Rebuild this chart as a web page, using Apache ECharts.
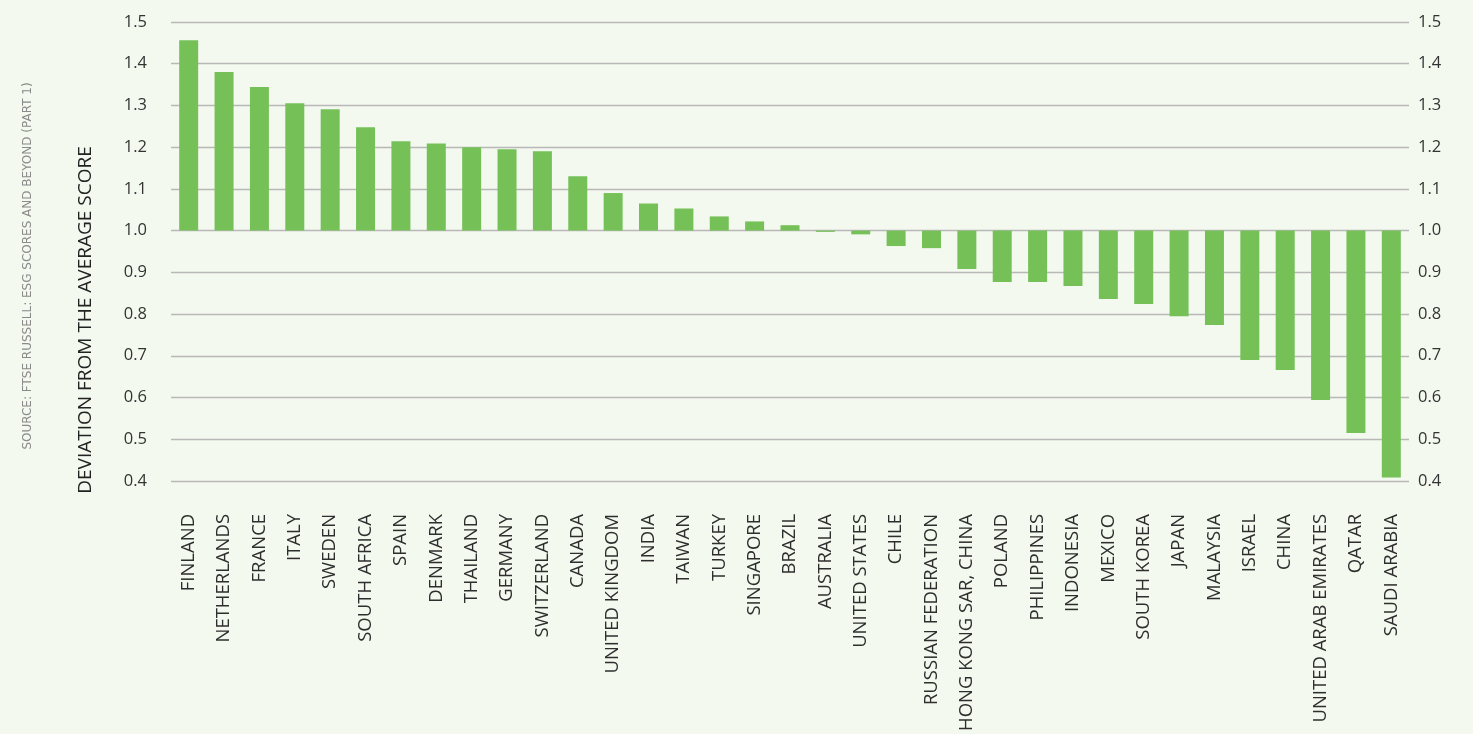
<!DOCTYPE html>
<html>
<head>
<meta charset="utf-8">
<script src="https://cdn.jsdelivr.net/npm/echarts@6/dist/echarts.min.js"></script>
<style>
html,body{margin:0;padding:0;background:#f4f9ef;}
#c{width:1473px;height:734px;}
</style>
</head>
<body>
<div id="c"></div>
<script>
const categories = ["FINLAND","NETHERLANDS","FRANCE","ITALY","SWEDEN","SOUTH AFRICA","SPAIN","DENMARK","THAILAND","GERMANY","SWITZERLAND","CANADA","UNITED KINGDOM","INDIA","TAIWAN","TURKEY","SINGAPORE","BRAZIL","AUSTRALIA","UNITED STATES","CHILE","RUSSIAN FEDERATION","HONG KONG SAR, CHINA","POLAND","PHILIPPINES","INDONESIA","MEXICO","SOUTH KOREA","JAPAN","MALAYSIA","ISRAEL","CHINA","UNITED ARAB EMIRATES","QATAR","SAUDI ARABIA"];
const scores = [1.456,1.380,1.344,1.305,1.291,1.248,1.214,1.209,1.200,1.195,1.190,1.130,1.090,1.065,1.053,1.034,1.022,1.013,0.997,0.991,0.963,0.958,0.908,0.877,0.877,0.867,0.836,0.824,0.795,0.774,0.690,0.666,0.594,0.515,0.408];
const baseline = 1.0;
const yTicks = {min: 0.4, max: 1.5, step: 0.1};
const yTitle = "DEVIATION FROM THE AVERAGE SCORE";
const sourceText = "SOURCE: FTSE RUSSELL: ESG SCORES AND BEYOND (PART 1)";

const chart = echarts.init(document.getElementById('c'));
const font = "'Open Sans', 'Noto Sans', sans-serif";
const fmt = v => (v + baseline).toFixed(1);
const yAxisCommon = {
  type: 'value',
  min: +(yTicks.min - baseline).toFixed(1),
  max: +(yTicks.max - baseline).toFixed(1),
  interval: yTicks.step,
  axisLine: {show: false},
  axisTick: {show: false},
  axisLabel: {formatter: fmt, color: '#333', fontSize: 16.5, fontFamily: font}
};
chart.setOption({
  backgroundColor: '#f4f9ef',
  animation: false,
  grid: {left: 171, right: 64, top: 22, bottom: 253, containLabel: false},
  xAxis: {
    type: 'category',
    data: categories,
    axisLine: {show: false},
    axisTick: {show: false},
    axisLabel: {rotate: 90, interval: 0, margin: 33, color: '#2e2e2e', fontSize: 18.5, fontFamily: font}
  },
  yAxis: [
    Object.assign({}, yAxisCommon, {
      position: 'left',
      axisLabel: Object.assign({}, yAxisCommon.axisLabel, {margin: 24}),
      splitLine: {show: true, lineStyle: {color: '#b8b8b8', width: 1.3}}
    }),
    Object.assign({}, yAxisCommon, {
      position: 'right',
      axisLabel: Object.assign({}, yAxisCommon.axisLabel, {margin: 9}),
      splitLine: {show: false}
    })
  ],
  series: [{
    type: 'bar',
    data: scores.map(v => +(v - baseline).toFixed(3)),
    barWidth: 19,
    itemStyle: {color: '#75c158'}
  }],
  graphic: [
    {
      type: 'text', x: 86, y: 320, rotation: Math.PI / 2,
      style: {text: yTitle, fill: '#222', font: "19px " + font, textAlign: 'center', textVerticalAlign: 'middle'}
    },
    {
      type: 'text', x: 28, y: 266, rotation: Math.PI / 2,
      style: {text: sourceText, fill: '#8a8a8a', font: "12px 'DejaVu Sans', sans-serif", textAlign: 'center', textVerticalAlign: 'middle'}
    }
  ]
});
</script>
</body>
</html>
